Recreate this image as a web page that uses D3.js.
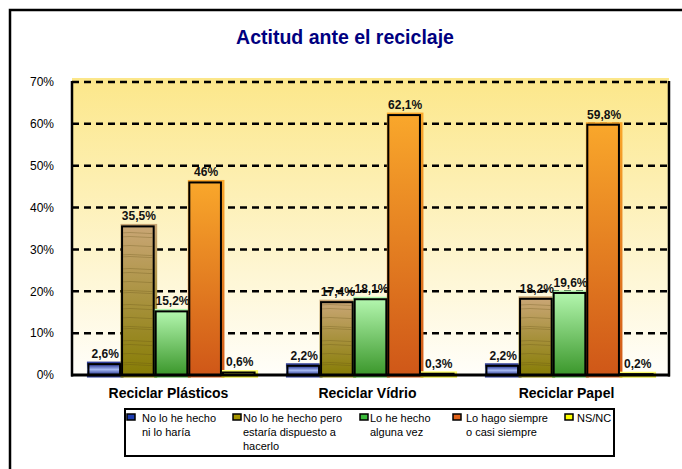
<!DOCTYPE html>
<html>
<head>
<meta charset="utf-8">
<script src="https://cdn.jsdelivr.net/npm/d3@7"></script>
<style>
  html, body { margin: 0; padding: 0; background: #fff; }
  svg { display: block; font-family: "Liberation Sans", Arial, sans-serif; }
</style>
</head>
<body>
<svg id="chart" width="682" height="469"></svg>
<script>
const categories = ["Reciclar Plásticos", "Reciclar Vídrio", "Reciclar Papel"]
const seriesKeys = ["nunca", "dispuesto", "algunaVez", "siempre", "nsnc"]
const legendLines = [
  ["No lo he hecho", "ni lo haría"],
  ["No lo he hecho pero", "estaría dispuesto a", "hacerlo"],
  ["Lo he hecho", "alguna vez"],
  ["Lo hago siempre", "o casi siempre"],
  ["NS/NC"]
]
const nuncaValues = [2.6, 2.2, 2.2]
const dispuestoValues = [35.5, 17.4, 18.2]
const algunaVezValues = [15.2, 18.1, 19.6]
const siempreValues = [46, 62.1, 59.8]
const nsncValues = [0.6, 0.3, 0.2]
const yTicks = [0, 10, 20, 30, 40, 50, 60, 70]

const valuesBySeries = {
  nunca: nuncaValues,
  dispuesto: dispuestoValues,
  algunaVez: algunaVezValues,
  siempre: siempreValues,
  nsnc: nsncValues
}

// gradient stops per series: [top, bottom] (blue one is banded)
const gradients = {
  nunca: [["0%", "#22308f"], ["50%", "#a6b9f2"], ["100%", "#22308f"]],
  dispuesto: [["0%", "#c9a675"], ["100%", "#877d05"]],
  algunaVez: [["0%", "#b3f6ae"], ["100%", "#3b972b"]],
  siempre: [["0%", "#f9a72b"], ["100%", "#cf5718"]],
  nsnc: [["0%", "#ffff80"], ["100%", "#d8d800"]]
}
const swatchColors = ["#1d3cb0", "#a59400", "#3cbc3c", "#e0621a", "#ffff00"]

const plot = { left: 72, right: 669, top: 82, bottom: 375 }

const svg = d3.select("#chart")
const defs = svg.append("defs")

seriesKeys.forEach(k => {
  const g = defs.append("linearGradient")
    .attr("id", "grad-" + k)
    .attr("x1", 0).attr("y1", 0).attr("x2", 0).attr("y2", 1)
  gradients[k].forEach(s => g.append("stop").attr("offset", s[0]).attr("stop-color", s[1]))
})
const bg = defs.append("linearGradient")
  .attr("id", "grad-bg")
  .attr("x1", 0).attr("y1", 0).attr("x2", 0).attr("y2", 1)
bg.append("stop").attr("offset", "0%").attr("stop-color", "#fce78a")
bg.append("stop").attr("offset", "100%").attr("stop-color", "#fffefa")

// faint wood-like streaks for the brown series
const streaks = defs.append("pattern")
  .attr("id", "streaks")
  .attr("patternUnits", "userSpaceOnUse")
  .attr("width", 40).attr("height", 36)
;[3, 5, 17, 21, 30].forEach(v => {
  streaks.append("path")
    .attr("d", `M0,${v} Q10,${v - 1} 20,${v} T40,${v}`)
    .attr("stroke", "#5a4a10")
    .attr("stroke-opacity", 0.35)
    .attr("stroke-width", 0.8)
    .attr("fill", "none")
})

// outer frame
svg.append("rect")
  .attr("x", 10).attr("y", 10)
  .attr("width", 700).attr("height", 500)
  .attr("fill", "#fff")
  .attr("stroke", "#000")
  .attr("stroke-width", 2.5)

svg.append("text")
  .attr("x", 345).attr("y", 44)
  .attr("text-anchor", "middle")
  .attr("font-size", 19.5)
  .attr("font-weight", "bold")
  .attr("fill", "#000080")
  .text("Actitud ante el reciclaje")

const y = d3.scaleLinear().domain([0, 70]).range([plot.bottom, plot.top])
const x0 = d3.scaleBand()
  .domain(categories)
  .range([plot.left, plot.right])
  .paddingInner(0.155)
  .paddingOuter(0.0775)
const x1 = d3.scaleBand().domain(seriesKeys).range([0, x0.bandwidth()])

svg.append("rect")
  .attr("x", plot.left).attr("y", plot.top - 4)
  .attr("width", plot.right - plot.left)
  .attr("height", plot.bottom - plot.top + 4)
  .attr("fill", "url(#grad-bg)")

svg.append("g")
  .selectAll("line")
  .data(yTicks.filter(d => d > 0))
  .enter()
  .append("line")
  .attr("x1", plot.left).attr("x2", plot.right)
  .attr("y1", d => y(d)).attr("y2", d => y(d))
  .attr("stroke", "#000")
  .attr("stroke-width", 2.5)
  .attr("stroke-dasharray", "7,5")

const cells = []
categories.forEach((c, i) => {
  seriesKeys.forEach(k => cells.push({ cat: c, key: k, value: valuesBySeries[k][i] }))
})

const bars = svg.append("g").attr("class", "bars")
// offset fill behind each bar (the excel look)
bars.selectAll("rect.halo")
  .data(cells)
  .enter()
  .append("rect")
  .attr("class", "halo")
  .attr("x", d => x0(d.cat) + x1(d.key) - 0.5)
  .attr("y", d => y(d.value) - 2.5)
  .attr("width", x1.bandwidth() + 3)
  .attr("height", d => y(0) - y(d.value) + 5)
  .attr("fill", d => "url(#grad-" + d.key + ")")
bars.selectAll("rect.bar")
  .data(cells)
  .enter()
  .append("rect")
  .attr("class", "bar")
  .attr("x", d => x0(d.cat) + x1(d.key) + 1)
  .attr("y", d => y(d.value))
  .attr("width", x1.bandwidth() - 2)
  .attr("height", d => y(0) - y(d.value))
  .attr("fill", d => "url(#grad-" + d.key + ")")
  .attr("stroke", "#000")
  .attr("stroke-width", 2)
bars.selectAll("rect.streak")
  .data(cells.filter(d => d.key === "dispuesto"))
  .enter()
  .append("rect")
  .attr("class", "streak")
  .attr("x", d => x0(d.cat) + x1(d.key) + 2)
  .attr("y", d => y(d.value) + 1)
  .attr("width", x1.bandwidth() - 4)
  .attr("height", d => y(0) - y(d.value) - 2)
  .attr("fill", "url(#streaks)")

// axis frame
const frame = svg.append("g").attr("stroke", "#000").attr("fill", "none")
frame.append("line").attr("x1", plot.left).attr("x2", plot.left)
  .attr("y1", plot.top - 1).attr("y2", plot.bottom + 1.5).attr("stroke-width", 2.5)
frame.append("line").attr("x1", plot.right).attr("x2", plot.right)
  .attr("y1", plot.top - 1).attr("y2", plot.bottom + 1.5).attr("stroke-width", 2.5)
frame.append("line").attr("x1", plot.left - 1).attr("x2", plot.right + 1)
  .attr("y1", plot.bottom).attr("y2", plot.bottom).attr("stroke-width", 3)

const yAxis = svg.append("g")
  .attr("transform", `translate(${plot.left - 15},0)`)
  .call(d3.axisLeft(y).tickValues(yTicks).tickSize(0).tickFormat(d => d + "%"))
yAxis.select(".domain").remove()
yAxis.selectAll("text")
  .attr("font-size", 12)
  .attr("font-family", "Liberation Sans, Arial, sans-serif")
  .attr("fill", "#000")

svg.append("g")
  .selectAll("text")
  .data(categories)
  .enter()
  .append("text")
  .attr("x", d => x0(d) + x0.bandwidth() / 2 - 3)
  .attr("y", 398)
  .attr("text-anchor", "middle")
  .attr("font-size", 14)
  .attr("font-weight", "bold")
  .text(d => d)

const fmt = v => (Number.isInteger(v) ? v : String(v).replace(".", ",")) + "%"
svg.append("g")
  .selectAll("text")
  .data(cells)
  .enter()
  .append("text")
  .attr("x", d => x0(d.cat) + x1(d.key) + x1.bandwidth() / 2 + 1)
  .attr("y", d => y(d.value) - 6)
  .attr("text-anchor", "middle")
  .attr("font-size", 12)
  .attr("font-weight", "bold")
  .attr("fill", "#111")
  .text(d => fmt(d.value))

// legend
const legend = svg.append("g")
legend.append("rect")
  .attr("x", 125).attr("y", 409)
  .attr("width", 489).attr("height", 47)
  .attr("fill", "#fff")
  .attr("stroke", "#000")
  .attr("stroke-width", 2)
const legendSwatchX = [127, 233, 360, 453, 565]
const legendTextX = [142, 243, 370, 466, 577]
const items = legend.selectAll("g.item")
  .data(legendLines)
  .enter()
  .append("g")
  .attr("class", "item")
items.append("rect")
  .attr("x", (d, i) => legendSwatchX[i])
  .attr("y", 414)
  .attr("width", 8).attr("height", 6)
  .attr("fill", (d, i) => swatchColors[i])
  .attr("stroke", "#000")
  .attr("stroke-width", 1.5)
items.each(function (lines, i) {
  const t = d3.select(this).append("text")
    .attr("font-size", 11)
    .attr("fill", "#000")
  lines.forEach((ln, j) => {
    t.append("tspan")
      .attr("x", legendTextX[i])
      .attr("y", 422 + j * 14)
      .text(ln)
  })
})
</script>
</body>
</html>
